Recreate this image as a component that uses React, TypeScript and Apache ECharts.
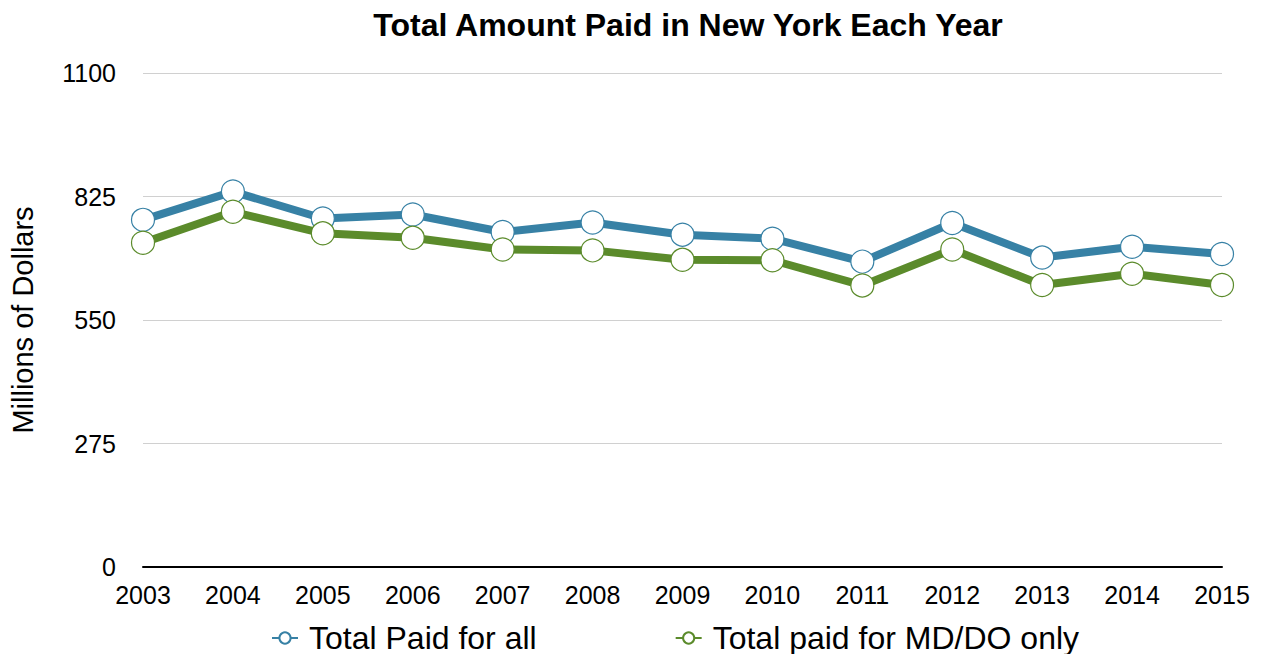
import React, { useEffect, useRef } from "react";
import * as echarts from "echarts";

const years = ["2003", "2004", "2005", "2006", "2007", "2008", "2009", "2010", "2011", "2012", "2013", "2014", "2015"];
const totalAll = [773, 836, 776, 785, 746, 767, 740, 731, 680, 766, 689, 713, 697];
const totalMdDo = [722, 791, 743, 733, 707, 705, 684, 683, 627, 707, 628, 653, 628];
const yTicks = [0, 275, 550, 825, 1100];

const FONT = "'Liberation Sans', Arial, Helvetica, sans-serif";
const BLUE = "#3781a5";
const GREEN = "#5b8b2b";

export default function App() {
  const ref = useRef<HTMLDivElement>(null);
  useEffect(() => {
    if (!ref.current) return;
    const chart = echarts.init(ref.current, null, { renderer: "svg" });
    const mkSeries = (name: string, data: number[], color: string) => ({
      name,
      type: "line",
      data,
      lineStyle: { color, width: 8 },
      itemStyle: { color: "#ffffff", borderColor: color, borderWidth: 1.2 },
      symbol: "circle",
      symbolSize: 23,
      showSymbol: true,
      z: 3,
    });
    chart.setOption({
      animation: false,
      textStyle: { fontFamily: FONT },
      title: {
        text: "Total Amount Paid in New York Each Year",
        left: 683,
        textAlign: "center",
        top: 4,
        textStyle: { fontSize: 32, fontWeight: "bold", color: "#000", fontFamily: FONT },
      },
      grid: { left: 143, right: 43, top: 73, bottom: 95, containLabel: false },
      legend: {
        top: 617,
        left: 266,
        itemGap: 138,
        itemWidth: 26,
        itemHeight: 14,
        textStyle: { fontSize: 32, color: "#000", fontFamily: FONT, padding: [0, 0, 0, 6] },
        data: ["Total Paid for all", "Total paid for MD/DO only"],
      },
      xAxis: {
        type: "category",
        data: years,
        boundaryGap: false,
        axisLine: { show: true, lineStyle: { color: "#000", width: 2 } },
        axisTick: { show: false },
        axisLabel: { fontSize: 25, color: "#000", margin: 15, fontFamily: FONT },
        splitLine: { show: false },
      },
      yAxis: {
        type: "value",
        min: yTicks[0],
        max: yTicks[yTicks.length - 1],
        interval: yTicks[1] - yTicks[0],
        name: "Millions of Dollars",
        nameLocation: "middle",
        nameGap: 106,
        nameTextStyle: { fontSize: 29, color: "#000", fontFamily: FONT },
        axisLine: { show: false },
        axisTick: { show: false },
        axisLabel: {
          fontSize: 25,
          color: "#000",
          margin: 27,
          fontFamily: FONT,
          formatter: (v: number) => String(v),
        },
        splitLine: { lineStyle: { color: "#d0d0d0", width: 1 } },
      },
      series: [
        mkSeries("Total Paid for all", totalAll, BLUE),
        mkSeries("Total paid for MD/DO only", totalMdDo, GREEN),
      ],
    });
    return () => chart.dispose();
  }, []);
  return <div ref={ref} style={{ width: 1265, height: 662, margin: -8 }} />;
}
